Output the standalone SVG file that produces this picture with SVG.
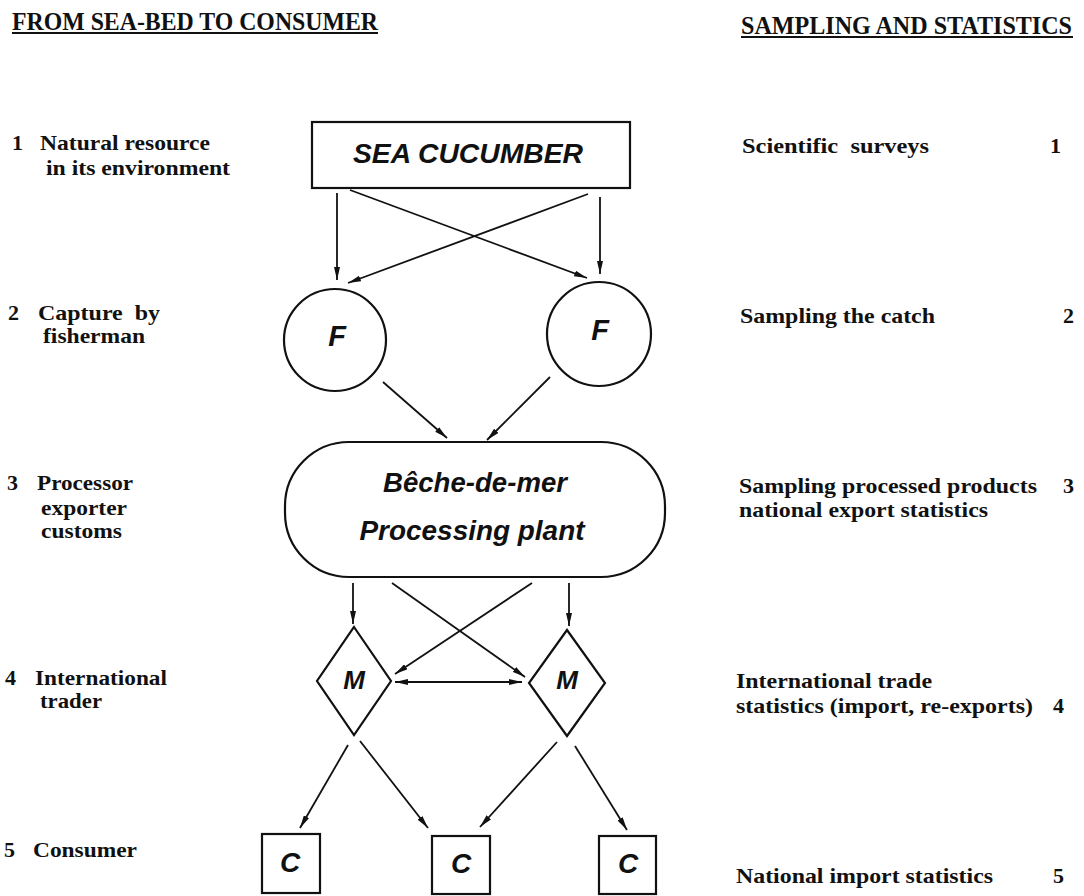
<svg xmlns="http://www.w3.org/2000/svg" width="1084" height="896" viewBox="0 0 1084 896">
<defs>
<style>
.hd{font-family:"Liberation Serif","Times New Roman",serif;font-weight:bold;font-size:25px;fill:#111}
.lb{font-family:"Liberation Serif","Times New Roman",serif;font-weight:bold;font-size:22px;fill:#111}
.nt{font-family:"Liberation Sans",Arial,sans-serif;font-weight:bold;font-style:italic;fill:#111}
.shape{fill:#fff;stroke:#111;stroke-width:2.2}
.conn line{stroke:#111;stroke-width:1.8;fill:none}
.ul{stroke:#111;stroke-width:1.8}
</style>
<marker id="ah" viewBox="0 0 13 6" refX="13" refY="3" markerWidth="13" markerHeight="6" orient="auto-start-reverse" markerUnits="userSpaceOnUse">
<path d="M0,0 L13,3 L0,6 z" fill="#111"/>
</marker>
</defs>
<rect width="1084" height="896" fill="#fff"/>

<g id="headings">
<text class="hd" x="12" y="30" textLength="366" lengthAdjust="spacingAndGlyphs">FROM SEA-BED TO CONSUMER</text>
<line class="ul" x1="12" y1="33" x2="378" y2="33"/>
<text class="hd" x="741" y="34" textLength="331" lengthAdjust="spacingAndGlyphs">SAMPLING AND STATISTICS</text>
<line class="ul" x1="741" y1="37" x2="1073" y2="37"/>
</g>

<g id="left-labels">
<text class="lb" x="12" y="150">1</text>
<text class="lb" x="40" y="150" textLength="170" lengthAdjust="spacingAndGlyphs">Natural resource</text>
<text class="lb" x="46" y="175" textLength="184" lengthAdjust="spacingAndGlyphs">in its environment</text>
<text class="lb" x="8" y="320">2</text>
<text class="lb" x="38" y="320" textLength="122" lengthAdjust="spacingAndGlyphs" xml:space="preserve">Capture  by</text>
<text class="lb" x="43" y="343" textLength="102" lengthAdjust="spacingAndGlyphs">fisherman</text>
<text class="lb" x="7" y="490">3</text>
<text class="lb" x="37" y="490" textLength="96" lengthAdjust="spacingAndGlyphs">Processor</text>
<text class="lb" x="41" y="515" textLength="86" lengthAdjust="spacingAndGlyphs">exporter</text>
<text class="lb" x="41" y="538" textLength="81" lengthAdjust="spacingAndGlyphs">customs</text>
<text class="lb" x="5" y="685">4</text>
<text class="lb" x="35" y="685" textLength="132" lengthAdjust="spacingAndGlyphs">International</text>
<text class="lb" x="40" y="708" textLength="62" lengthAdjust="spacingAndGlyphs">trader</text>
<text class="lb" x="4" y="857">5</text>
<text class="lb" x="33" y="857" textLength="104" lengthAdjust="spacingAndGlyphs">Consumer</text>
</g>

<g id="right-labels">
<text class="lb" x="742" y="153" textLength="187" lengthAdjust="spacingAndGlyphs" xml:space="preserve">Scientific  surveys</text>
<text class="lb" x="1050" y="153">1</text>
<text class="lb" x="740" y="323" textLength="195" lengthAdjust="spacingAndGlyphs">Sampling the catch</text>
<text class="lb" x="1063" y="323">2</text>
<text class="lb" x="739" y="493" textLength="298" lengthAdjust="spacingAndGlyphs">Sampling processed products</text>
<text class="lb" x="1063" y="493">3</text>
<text class="lb" x="739" y="517" textLength="249" lengthAdjust="spacingAndGlyphs">national export statistics</text>
<text class="lb" x="736" y="688" textLength="196" lengthAdjust="spacingAndGlyphs">International trade</text>
<text class="lb" x="736" y="713" textLength="297" lengthAdjust="spacingAndGlyphs">statistics (import, re-exports)</text>
<text class="lb" x="1053" y="713">4</text>
<text class="lb" x="736" y="883" textLength="257" lengthAdjust="spacingAndGlyphs">National import statistics</text>
<text class="lb" x="1053" y="883">5</text>
</g>

<g id="sea-cucumber">
<rect class="shape" x="312" y="122" width="318" height="66"/>
<text class="nt" x="468" y="163" font-size="27" text-anchor="middle" textLength="230" lengthAdjust="spacingAndGlyphs">SEA CUCUMBER</text>
</g>

<g id="fisherman-left">
<circle class="shape" cx="335" cy="340" r="51"/>
<text class="nt" x="337" y="346" font-size="29" text-anchor="middle">F</text>
</g>
<g id="fisherman-right">
<circle class="shape" cx="599" cy="334" r="52"/>
<text class="nt" x="600" y="340" font-size="29" text-anchor="middle">F</text>
</g>

<g id="processing-plant">
<rect class="shape" x="285" y="442" width="380" height="135" rx="64" ry="64"/>
<text class="nt" x="475" y="492" font-size="27" text-anchor="middle" textLength="184" lengthAdjust="spacingAndGlyphs">Bêche-de-mer</text>
<text class="nt" x="472" y="540" font-size="27" text-anchor="middle" textLength="225" lengthAdjust="spacingAndGlyphs">Processing plant</text>
</g>

<g id="trader-left">
<polygon class="shape" points="354,627 391,681 354,735 317,681"/>
<text class="nt" x="354" y="689" font-size="26" text-anchor="middle">M</text>
</g>
<g id="trader-right">
<polygon class="shape" points="567,630 605,683 567,736 529,683"/>
<text class="nt" x="567" y="689" font-size="26" text-anchor="middle">M</text>
</g>

<g id="consumer-1">
<rect class="shape" x="262" y="834" width="58" height="59"/>
<text class="nt" x="290" y="872" font-size="28" text-anchor="middle">C</text>
</g>
<g id="consumer-2">
<rect class="shape" x="432" y="836" width="58" height="58"/>
<text class="nt" x="461" y="873" font-size="28" text-anchor="middle">C</text>
</g>
<g id="consumer-3">
<rect class="shape" x="599" y="836" width="57" height="58"/>
<text class="nt" x="628" y="873" font-size="28" text-anchor="middle">C</text>
</g>

<g id="connectors" class="conn">
<line x1="337" y1="193" x2="337" y2="280" marker-end="url(#ah)"/>
<line x1="600" y1="197" x2="600" y2="274" marker-end="url(#ah)"/>
<line x1="350" y1="190" x2="587" y2="278" marker-end="url(#ah)"/>
<line x1="588" y1="194" x2="348" y2="283" marker-end="url(#ah)"/>
<line x1="383" y1="382" x2="447" y2="438" marker-end="url(#ah)"/>
<line x1="550" y1="377" x2="487" y2="440" marker-end="url(#ah)"/>
<line x1="353" y1="583" x2="353" y2="624" marker-end="url(#ah)"/>
<line x1="569" y1="583" x2="569" y2="626" marker-end="url(#ah)"/>
<line x1="392" y1="583" x2="525" y2="677" marker-end="url(#ah)"/>
<line x1="532" y1="583" x2="395" y2="674" marker-end="url(#ah)"/>
<line x1="395" y1="682" x2="522" y2="682" marker-start="url(#ah)" marker-end="url(#ah)"/>
<line x1="348" y1="745" x2="300" y2="828" marker-end="url(#ah)"/>
<line x1="360" y1="741" x2="428" y2="828" marker-end="url(#ah)"/>
<line x1="557" y1="742" x2="480" y2="827" marker-end="url(#ah)"/>
<line x1="575" y1="746" x2="627" y2="830" marker-end="url(#ah)"/>
</g>
</svg>
